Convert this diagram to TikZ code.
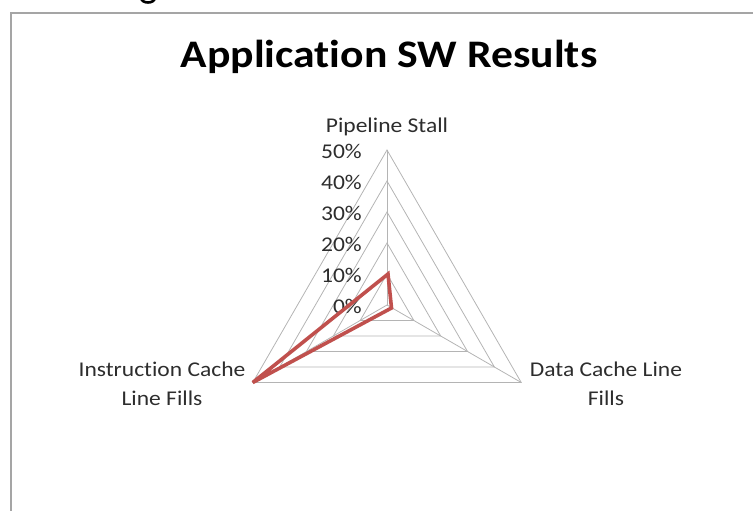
\documentclass[tikz,border=0pt]{standalone}
\usepackage{fontspec}
\setmainfont{Carlito}[FakeStretch=1.12,Ligatures=NoCommon]
\definecolor{redline}{RGB}{192,80,77}
\definecolor{gridc}{RGB}{180,180,180}
\definecolor{framec}{RGB}{165,165,165}
\definecolor{txt}{RGB}{45,45,45}
\begin{document}
\begin{tikzpicture}[x=1pt,y=-1pt,
  gridline/.style={draw=gridc,line width=0.8pt},
  series/.style={draw=redline,line width=3.6pt},
  frameline/.style={draw=framec,line width=2.2pt},
  lbl/.style={text=txt,font=\fontsize{21}{28.5}\selectfont,inner sep=0pt},
  pct/.style={lbl,anchor=base east},
  axislbl/.style={lbl,align=center}]
\useasboundingbox (0,0) rectangle (753,511);
% frame of the chart
\coordinate (fb) at (11,520);
\coordinate (fc) at (11,13);
\coordinate (fr) at (760,13);
\draw[frameline] (fb) -- (fc) -- (fr);
% bottom of a glyph cut off above the frame
\coordinate (ga) at (141,-2);
\coordinate (gb) at (155,-2);
\draw[line width=2.6pt,black] (ga) .. controls (142,4) and (154,4) .. (gb);
% title
\node[font=\fontsize{39}{47}\selectfont\bfseries,anchor=base,inner sep=0pt] (title) at (389,68) {Application SW Results};
% grid
\coordinate (C) at (387,305);
\foreach \k in {1,...,5}{
  \draw[gridline] ({387},{305-31*\k}) -- ({387+26.846*\k},{305+15.5*\k}) -- ({387-26.846*\k},{305+15.5*\k}) -- cycle;
}
\coordinate (T) at (387,150);
\coordinate (BL) at (252.77,382.5);
\coordinate (BR) at (521.23,382.5);
\draw[gridline] (C) -- (T);
\draw[gridline] (C) -- (BL);
\draw[gridline] (C) -- (BR);
% percent labels
\foreach \k/\t in {0/0\%,1/10\%,2/20\%,3/30\%,4/40\%,5/50\%}{
  \node[pct] (p\k) at (362,{305-31*\k+8}) {\t};
}
% series
\coordinate (pT) at (388,274);
\coordinate (pR) at (391.5,308);
\draw[series] (pT) -- (pR) -- (BL) -- cycle;
% axis labels
\node[lbl,anchor=base] (ps) at (387,132) {Pipeline Stall};
\node[axislbl,anchor=north] (ic) at (162,362) {Instruction Cache\\Line Fills};
\node[axislbl,anchor=north] (dc) at (606,362) {Data Cache Line\\Fills};
\end{tikzpicture}
\end{document}
